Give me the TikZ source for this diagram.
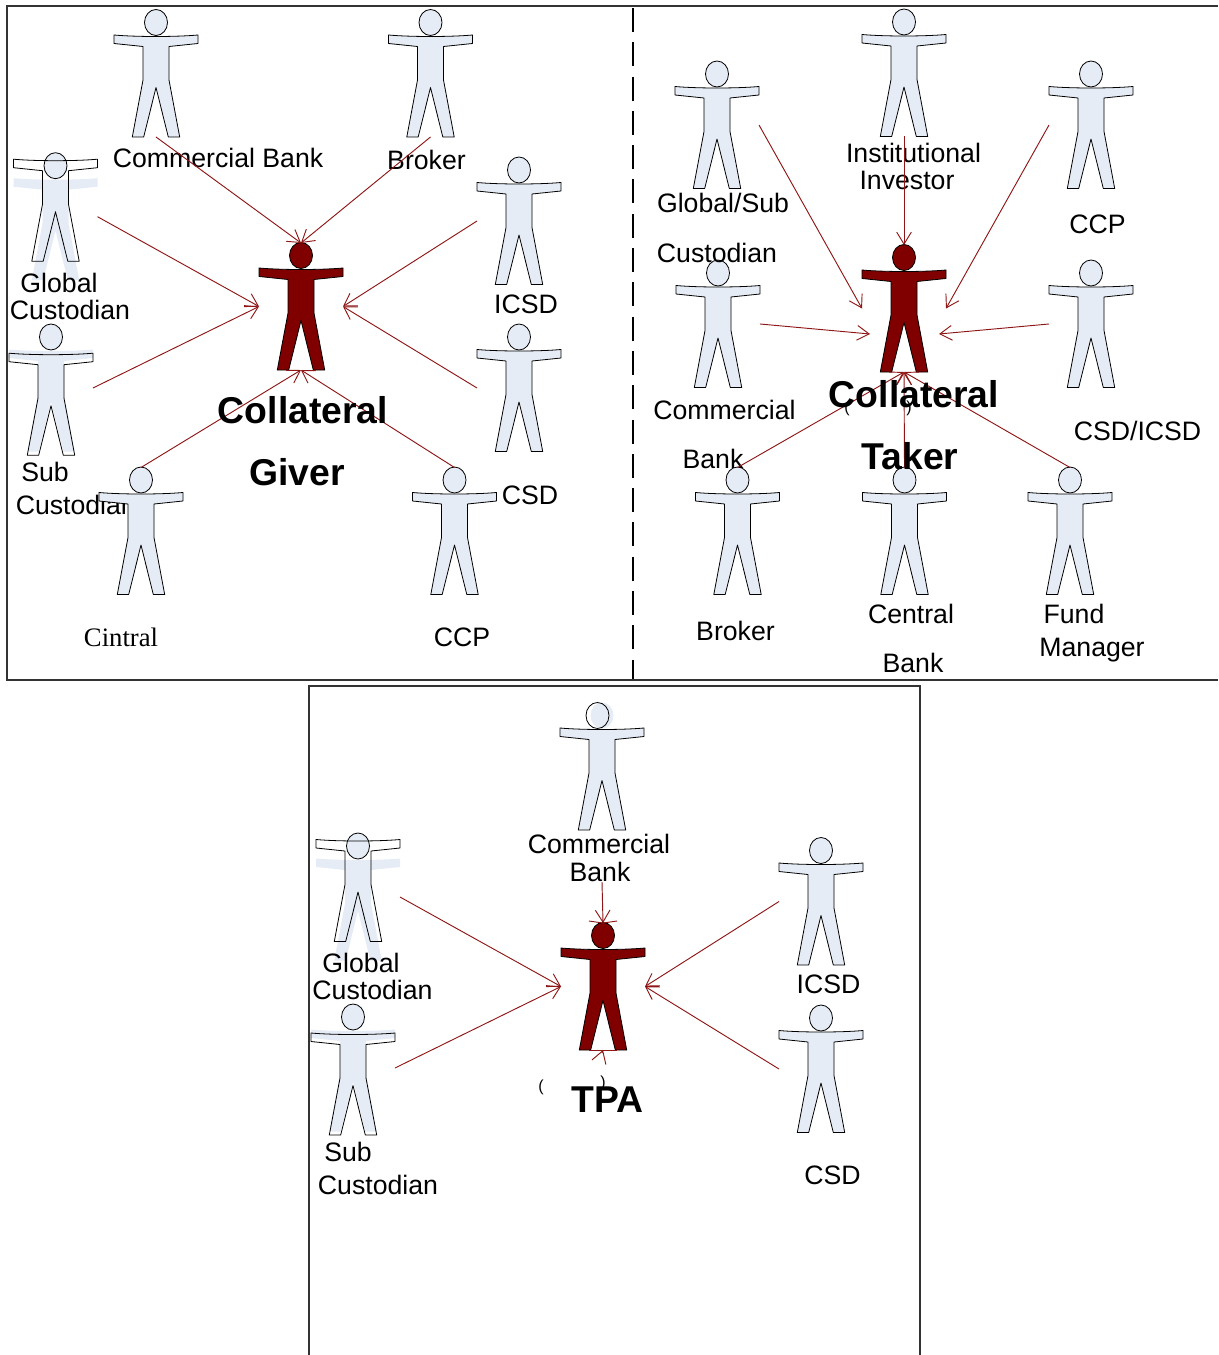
\documentclass[tikz,border=0pt]{standalone}
\usepackage{fontspec}
\setmainfont{Liberation Sans}
\newfontfamily\serifname{Liberation Serif}
\usetikzlibrary{arrows.meta}
\usetikzlibrary{calc}
\definecolor{figblue}{HTML}{E6ECF6}
\definecolor{figred}{HTML}{800000}
\definecolor{linkred}{HTML}{8E1616}
\definecolor{framegray}{HTML}{333333}
\tikzset{
    personbox/.style={
        minimum width=63pt,
        minimum height=95.25pt,
        inner sep=0pt,
        outer sep=0pt
    },
    bluefig/.style={
        fill=figblue,
        draw=black,
        line width=0.6pt
    },
    redfig/.style={
        fill=figred,
        draw=black,
        line width=0.6pt
    },
    figfill/.style={
        fill=figblue
    },
    figline/.style={
        draw=black,
        line width=0.6pt
    },
    pics/personhead/.style={
        code={
            \path[pic actions] (0,-51) ellipse [x radius=11.5, y radius=13];
        }
    },
    pics/personbody/.style={
        code={
            \path[pic actions, line join=round] (-42,-38.5) .. controls (-20,-36.5) and (20,-36.5) .. (42,-38.5)
                -- (42,-30) -- (13,-27) -- (13,6.5) -- (23.7,63.5) -- (12.3,63.5) -- (0,14)
                -- (-12.3,63.5) -- (-23.7,63.5) -- (-13,6.5) -- (-13,-27) -- (-42,-30) -- cycle;
        }
    },
    lbl/.style={
        font=\fontsize{20}{24}\selectfont,
        inner sep=0pt
    },
    biglbl/.style={
        font=\fontsize{28}{32}\selectfont\bfseries,
        inner sep=0pt
    },
    paren/.style={
        font=\fontsize{12}{14}\selectfont,
        inner sep=0pt
    },
    link/.style={
        draw=linkred,
        line width=0.7pt,
        -{Straight Barb[length=9pt,width=11pt,line width=0.7pt]}
    },
    stub/.style={
        draw=linkred,
        line width=0.7pt
    },
    frame/.style={
        draw=framegray,
        line width=0.9pt
    }
}
\newcommand{\person}[3]{
    \node[personbox] (#1) at (#2,#3) {};
    \pic[bluefig] at (#1) {personbody};
    \pic[bluefig] at (#1) {personhead};
}
% body outline slipped from its fill by #4
\newcommand{\slipperson}[4]{
    \node[personbox] (#1) at (#2,#3) {};
    \pic[figfill] at (#1) {personbody};
    \pic[bluefig] at (#1) {personhead};
    \pic[figline] at ($(#1)+(0,#4)$) {personbody};
}
\newcommand{\redperson}[3]{
    \node[personbox] (#1) at (#2,#3) {};
    \pic[redfig] at (#1) {personbody};
    \pic[redfig] at (#1) {personhead};
}

\begin{document}
\begin{tikzpicture}[x=0.75pt, y=-0.75pt]
    \useasboundingbox (0,0) rectangle (1218,1355);

    % panels
    \coordinate (f1) at (7,6);
    \coordinate (f2) at (1218,6);
    \coordinate (f3) at (1218,680);
    \coordinate (f4) at (7,680);
    \coordinate (d1) at (633,8);
    \coordinate (d2) at (633,679);
    \coordinate (p1) at (309,1355);
    \coordinate (p2) at (309,686);
    \coordinate (p3) at (920,686);
    \coordinate (p4) at (920,1355);
    \draw[frame] (f2) -- (f1) -- (f4) -- (f3);
    \draw[black, line width=1.7pt, dash pattern=on 18pt off 7.72pt] (d1) -- (d2);
    \draw[frame] (p1) -- (p2) -- (p3) -- (p4);

    % giver side
    \person{gbank}{156}{73.5}
    \person{gbroker}{430.5}{73.5}
    \slipperson{gglobal}{55.5}{216.7}{-19}
    \slipperson{gsub}{51}{388}{3.7}
    \person{gicsd}{519}{221}
    \person{gcsd}{519}{388}
    \person{gccp}{454.5}{531}
    \redperson{giver}{301}{306.5}

    \node[lbl] (gl1) at (218,158) {Commercial Bank};
    \node[lbl] (gl2) at (426.5,160) {Broker};
    \node[lbl] (gl3) at (59,283) {Global};
    \node[lbl] (gl4) at (70,310) {Custodian};
    \node[lbl] (gl5) at (526,304) {ICSD};
    \node[lbl] (gl6) at (530,495) {CSD};
    \node[lbl] (gl7) at (45,472) {Sub};
    \node[lbl, anchor=west] (gl8) at (15.5,505) {Custodian};
    \node[lbl] (gl9) at (462,637) {CCP};
    \node[lbl, font=\fontsize{20}{24}\selectfont\serifname] (gl10) at (121,637) {Cintral};
    \person{gcentral}{141}{531}

    \draw[link] (gbank.south) -- (giver.north);
    \draw[link] (gbroker.south) -- (giver.north);
    \draw[link] (gglobal.east) -- (giver.west);
    \draw[link] (gsub.east) -- (giver.west);
    \draw[link] (gicsd.west) -- (giver.east);
    \draw[link] (gcsd.west) -- (giver.east);
    \draw[link] (gcentral.north) -- (giver.south);
    \draw[link] (gccp.north) -- (giver.south);

    \node[biglbl] (gt1) at (303,410) {Collateral};
    \node[biglbl] (gt2) at (297,472) {Giver};

    % taker side
    \person{tglobal}{717}{125}
    \person{tinst}{904}{73}
    \person{tccp}{1091}{125}
    \person{tbank}{718}{324}
    \person{tcsd}{1091}{324}
    \person{tbroker}{737.5}{531}
    \person{tcentral}{904.5}{531}
    \person{tfund}{1070}{531}
    \redperson{taker}{904}{308.5}

    \coordinate (tin1) at (870,334);
    \coordinate (tin2) at (939,334);

    \node[lbl] (tl1) at (723,203) {Global/Sub};
    \node[lbl] (tl2) at (717,253) {Custodian};
    \node[lbl] (tl3) at (913.5,153) {Institutional};
    \node[lbl] (tl4) at (907,180) {Investor};
    \node[lbl] (tl5) at (1097.5,224) {CCP};
    \node[lbl] (tl6) at (724.5,410) {Commercial};
    \node[lbl] (tl7) at (713,459) {Bank};
    \node[lbl] (tl8) at (1137.5,431) {CSD/ICSD};
    \node[lbl] (tl9) at (735.5,631) {Broker};
    \node[lbl] (tl10) at (911,614) {Central};
    \node[lbl] (tl11) at (913,663) {Bank};
    \node[lbl] (tl12) at (1074,614) {Fund};
    \node[lbl] (tl13) at (1092,650) {Manager};
    \node[paren] (tp1) at (847,408) {(};
    \node[paren] (tp2) at (909,408) {)};

    \draw[link] (tglobal.east) -- (taker.west);
    \draw[link] (tinst.south) -- (taker.north);
    \draw[link] (tccp.west) -- (taker.east);
    \draw[link] (tbank.east) -- (tin1);
    \draw[link] (tcsd.west) -- (tin2);
    \draw[link] (tbroker.north) -- (taker.south);
    \draw[link] (tcentral.north) -- (taker.south);
    \draw[link] (tfund.north) -- (taker.south);

    \node[biglbl] (tt1) at (914,394) {Collateral};
    \node[biglbl] (tt2) at (910,456) {Taker};

    % tpa side
    \node[personbox] (pbank) at (602,766.5) {};
    \pic[bluefig] at (pbank) {personbody};
    \pic[figfill] at (pbank) {personhead};
    \pic[figline] at ($(pbank)+(-4.5,0)$) {personhead};
    \slipperson{pglobal}{358}{897}{-19}
    \slipperson{psub}{353}{1068}{3.5}
    \person{picsd}{821}{901.5}
    \person{pcsd}{821}{1069}
    \redperson{tpa}{603}{986.5}

    \coordinate (pin1) at (602,882);
    \coordinate (pin2) at (602,1053);

    \node[lbl] (pl1) at (599,844) {Commercial};
    \node[lbl] (pl2) at (600,872) {Bank};
    \node[lbl] (pl3) at (361,963) {Global};
    \node[lbl] (pl4) at (372.5,990) {Custodian};
    \node[lbl] (pl5) at (348,1152) {Sub};
    \node[lbl] (pl6) at (378,1185) {Custodian};
    \node[lbl] (pl7) at (828.5,984) {ICSD};
    \node[lbl] (pl8) at (832.5,1175) {CSD};
    \node[paren] (pp1) at (541,1087) {(};
    \node[paren] (pp2) at (603,1083) {)};

    \draw[link] (pin1) -- (tpa.north);
    \draw[link] (pglobal.east) -- (tpa.west);
    \draw[link] (psub.east) -- (tpa.west);
    \draw[link] (picsd.west) -- (tpa.east);
    \draw[link] (pcsd.west) -- (tpa.east);
    \draw[link] (pin2) -- (tpa.south);
    \draw[stub] (tpa.north) -- ++(-14,-2);
    \draw[stub] (tpa.north) -- ++(14,-2);
    \draw[stub] (tpa.south) -- ++(-14,0);
    \draw[stub] (tpa.south) -- ++(14,0);
    \draw[stub] (tpa.west) -- ++(-14,0);
    \draw[stub] (tpa.east) -- ++(14,0);

    \node[biglbl] (pt1) at (607.5,1099.5) {TPA};
\end{tikzpicture}
\end{document}
